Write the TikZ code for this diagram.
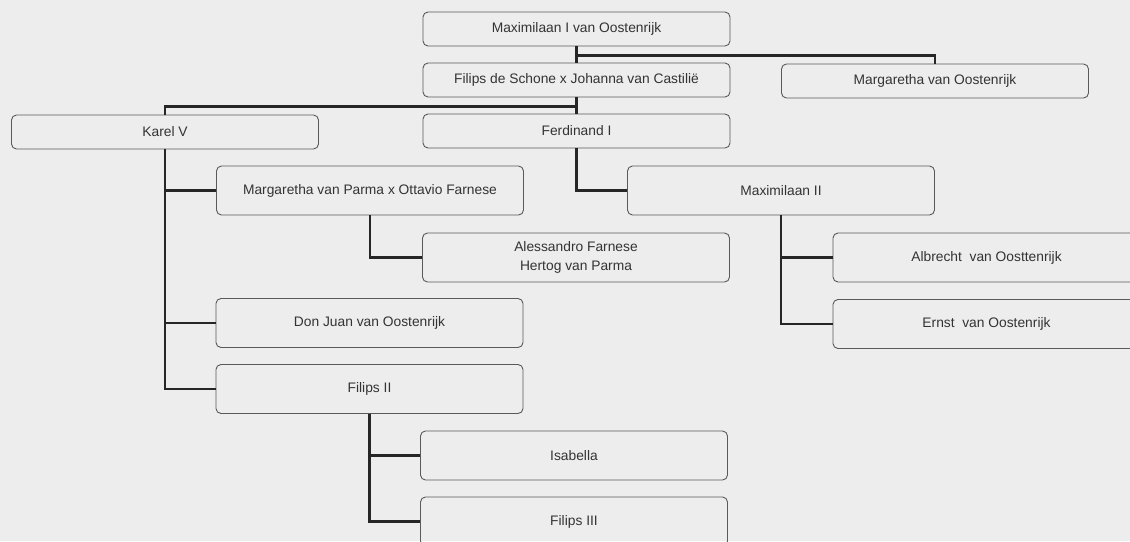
\documentclass[tikz,border=0pt]{standalone}
\usepackage{fontspec}
\setmainfont{Liberation Sans}
\usepackage{tikz}

\begin{document}
\begin{tikzpicture}[x=1pt,y=-1pt,
  persoon/.style={rectangle,draw=black!65,line width=0.9pt,rounded corners=5pt,
    minimum width=307pt,minimum height=#1,inner sep=0pt,text=black!80,
    font=\fontsize{13.8}{19}\selectfont,align=center},
  persoon/.default=49pt,
  tak/.style={draw=black!85,line width=2.6pt}]
\useasboundingbox (0,0) rectangle (1130,541);
\clip (0,0) rectangle (1130,541);
\fill [black!7] (0,0) rectangle (1130,541);
\node [persoon=34pt] (m1) at (576.5,29) {Maximilaan I van Oostenrijk};
\node [persoon=34pt] (fs) at (576.5,80) {Filips de Schone x Johanna van Castilië};
\node [persoon=34pt] (mo) at (935,81) {Margaretha van Oostenrijk};
\node [persoon=34pt] (k5) at (165,132) {Karel V};
\node [persoon=34pt] (f1) at (576.5,131) {Ferdinand I};
\node [persoon] (mp) at (370,190.5) {Margaretha van Parma x Ottavio Farnese};
\node [persoon] (m2) at (781,190.5) {Maximilaan II};
\node [persoon] (af) at (576,257.5) {Alessandro Farnese\\Hertog van Parma};
\node [persoon] (ab) at (986.5,257.5) {Albrecht\ \ van Oosttenrijk};
\node [persoon] (eo) at (986.5,324) {Ernst\ \ van Oostenrijk};
\node [persoon] (dj) at (369.5,323) {Don Juan van Oostenrijk};
\node [persoon] (f2) at (369.5,389) {Filips II};
\node [persoon] (is) at (574,455.5) {Isabella};
\node [persoon] (f3) at (574,521.5) {Filips III};
% lijnen
\coordinate (j1) at ([yshift=-9pt]m1.south);
\coordinate (j2) at ([yshift=-9pt]fs.south);
\draw [tak] (m1) -- (fs);
\draw [tak] (j1) -| (mo.north);
\draw [tak] (fs) -- (f1);
\draw [tak] (j2) -| (k5.north);
\draw [tak] (k5.south) |- (mp.west);
\draw [tak] (k5.south) |- (dj.west);
\draw [tak] (k5.south) |- (f2.west);
\draw [tak] (f1.south) |- (m2.west);
\draw [tak] (mp.south) |- (af.west);
\draw [tak] (m2.south) |- (ab.west);
\draw [tak] (m2.south) |- (eo.west);
\draw [tak] (f2.south) |- (is.west);
\draw [tak] (f2.south) |- (f3.west);
\end{tikzpicture}
\end{document}
